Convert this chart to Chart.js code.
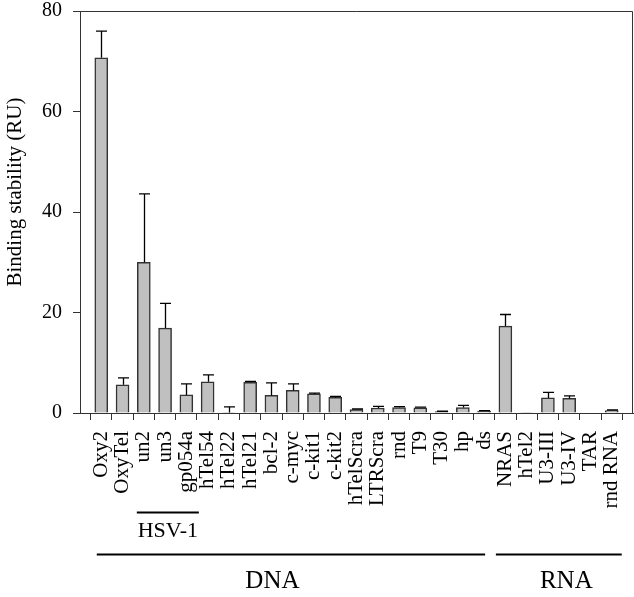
<!DOCTYPE html>
<html>
<head>
<meta charset="utf-8">
<script src="https://cdn.jsdelivr.net/npm/chart.js@4.4.1/dist/chart.umd.min.js"></script>
<style>body{margin:0;background:#fff}</style>
</head>
<body>
<canvas id="binding_chart" width="634" height="597"></canvas>
<script>
// values (RU), one per oligonucleotide
var categories = ['Oxy2','OxyTel','un2','un3','gp054a','hTel54','hTel22','hTel21','bcl-2','c-myc',
    'c-kit1','c-kit2','hTelScra','LTRScra','rnd','T9','T30','hp','ds',
    'NRAS','hTel2','U3-III','U3-IV','TAR','rnd RNA'];
var stability = [70.7,5.6,30.0,16.9,3.6,6.2,0.1,6.1,3.5,4.5,
    3.8,3.1,0.7,1.0,1.1,1.05,0.3,1.1,0.4,
    17.3,0.1,3.0,2.9,0,0.5];
var errors = [5.3,1.4,13.6,4.9,2.2,1.4,1.1,0.2,2.5,1.3,
    0.15,0.2,0.1,0.3,0.15,0.1,0.05,0.4,0.05,
    2.3,0,1.1,0.5,0,0.1];
var yTicks = [0,20,40,60,80];
var yTitle = 'Binding stability (RU)';

// brackets under the axis
var groupNames = ['HSV-1','DNA','RNA'];
var groupFrom = ['un2','Oxy2','NRAS'];
var groupTo = ['gp054a','ds','rnd RNA'];

var serif = '"Liberation Serif", "Times New Roman", serif';
// pixel tweaks for the hand placed brackets
var groupStyle = [
    {y: 512.5, textY: 537, padL: 7, padR: 12.5, dx: 0, size: 22},
    {y: 554.5, textY: 588, padL: 4.5, padR: 1, dx: -18.5, size: 25},
    {y: 554.5, textY: 588, padL: 9.5, padR: 10, dx: 7.5, size: 25}
];

// one empty slot each side so the bars sit in from the frame
var labels = [''].concat(categories, ['']);
var values = [null].concat(stability, [null]);

function noPadding(scale){
    scale.paddingLeft = 0;
    scale.paddingRight = 0;
    scale.paddingTop = 0;
    scale.paddingBottom = 0;
}

var extras = {
    id: 'extras',
    afterDatasetsDraw: function(chart){
        var ctx = chart.ctx;
        var y = chart.scales.y;
        var meta = chart.getDatasetMeta(0);
        ctx.save();
        ctx.strokeStyle = '#000';
        ctx.lineWidth = 1.3;
        for(var i=0;i<categories.length;++i){
            if(!errors[i]) continue;
            var bar = meta.data[i+1];
            var x = Math.round(bar.x) + 0.5;
            var top = y.getPixelForValue(stability[i] + errors[i]);
            var base = y.getPixelForValue(stability[i]);
            ctx.beginPath();
            ctx.moveTo(x, base);
            ctx.lineTo(x, top);
            ctx.moveTo(x - 5.5, top);
            ctx.lineTo(x + 5.5, top);
            ctx.stroke();
        }
        ctx.restore();
    },
    afterDraw: function(chart){
        var ctx = chart.ctx;
        var a = chart.chartArea;
        var xs = chart.scales.x;
        ctx.save();
        // top and right of the frame
        ctx.strokeStyle = '#333';
        ctx.lineWidth = 1;
        ctx.beginPath();
        ctx.moveTo(a.left, a.top + 0.5);
        ctx.lineTo(a.right - 0.5, a.top + 0.5);
        ctx.lineTo(a.right - 0.5, a.bottom);
        ctx.stroke();

        // group brackets
        ctx.strokeStyle = '#000';
        ctx.fillStyle = '#000';
        ctx.lineWidth = 2;
        ctx.textAlign = 'center';
        ctx.textBaseline = 'alphabetic';
        for(var g=0;g<groupNames.length;++g){
            var s = groupStyle[g];
            var x0 = xs.getPixelForValue(categories.indexOf(groupFrom[g]) + 1) - s.padL;
            var x1 = xs.getPixelForValue(categories.indexOf(groupTo[g]) + 1) + s.padR;
            ctx.beginPath();
            ctx.moveTo(x0, s.y);
            ctx.lineTo(x1, s.y);
            ctx.stroke();
            ctx.font = s.size + 'px ' + serif;
            ctx.fillText(groupNames[g], (x0 + x1) / 2 + s.dx, s.textY);
        }

        // y axis title
        ctx.font = '21px ' + serif;
        ctx.translate(21, 192);
        ctx.rotate(-Math.PI / 2);
        ctx.fillText(yTitle, 0, 0);
        ctx.restore();
    }
};

var ctx = document.getElementById('binding_chart').getContext('2d');
var chart = new Chart(ctx, {
    type: 'bar',
    data: {
        labels: labels,
        datasets: [{
            data: values,
            backgroundColor: '#c0c0c0',
            borderColor: '#333',
            borderWidth: 1.5,
            barThickness: 13
        }]
    },
    options: {
        responsive: false,
        animation: false,
        devicePixelRatio: 1,
        layout: {padding: {top: 11, right: 1, left: 0, bottom: 0}},
        plugins: {legend: {display: false}, tooltip: {enabled: false}},
        scales: {
            x: {
                offset: false,
                grid: {drawOnChartArea: false, tickLength: 7, color: '#333', tickWidth: 1},
                border: {color: '#333', width: 1},
                ticks: {
                    autoSkip: false,
                    minRotation: 90,
                    maxRotation: 90,
                    padding: 11,
                    color: '#000',
                    font: {family: serif, size: 21, lineHeight: 1},
                    callback: function(v, i){
                        return labels[i] === '' ? null : labels[i];
                    }
                },
                afterFit: function(scale){
                    scale.height = 184;
                    noPadding(scale);
                }
            },
            y: {
                min: 0,
                max: 80,
                afterBuildTicks: function(scale){
                    scale.ticks = yTicks.map(function(v){ return {value: v}; });
                },
                grid: {drawOnChartArea: false, tickLength: 7, color: '#333'},
                border: {color: '#333', width: 1},
                ticks: {
                    padding: 11,
                    color: '#000',
                    font: {family: serif, size: 20, lineHeight: 1}
                },
                afterFit: function(scale){
                    scale.width = 80;
                    noPadding(scale);
                }
            }
        }
    },
    plugins: [extras]
});
</script>
</body>
</html>
